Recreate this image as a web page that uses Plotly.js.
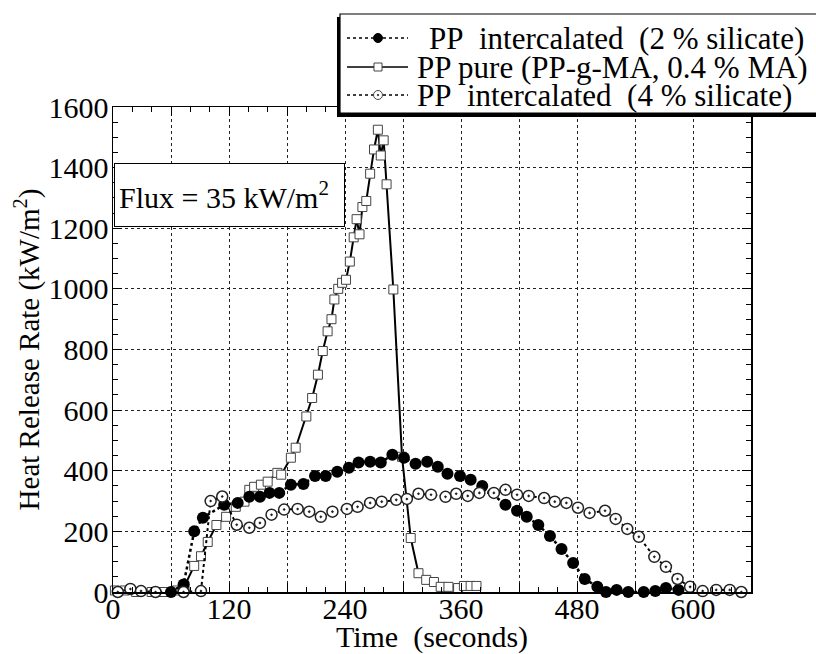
<!DOCTYPE html>
<html><head><meta charset="utf-8">
<script src="https://cdn.plot.ly/plotly-3.0.1.min.js"></script>
<style>html,body{margin:0;padding:0;background:#fff;} #chart{width:816px;height:654px;}</style>
</head><body><div id="chart"></div>
<script>
// ---- data ----
const tPure   = [2, 12, 24, 40, 52, 66, 74, 84, 91, 98, 107, 117, 127, 136, 141, 146, 153, 160, 170, 174, 184, 189, 200, 206, 212, 217, 222, 226, 229, 233, 237, 241, 245, 249, 252, 255, 258, 262, 266, 270, 274, 277, 280, 283, 290, 299, 308, 316, 324, 332, 339, 347, 357, 363, 370, 376];
const hrrPure = [5, 5, 0, 0, 0, 5, 20, 86, 118, 165, 221, 248, 281, 298, 337, 347, 354, 364, 393, 387, 443, 476, 579, 640, 717, 795, 860, 900, 965, 1000, 1020, 1030, 1090, 1170, 1230, 1180, 1270, 1290, 1380, 1460, 1525, 1440, 1490, 1345, 998, 446, 178, 62, 40, 33, 17, 17, 13, 20, 20, 20];

const t2   = [60, 73, 84, 93, 115, 129, 141, 152, 162, 172, 184, 197, 209, 220, 232, 244, 254, 266, 277, 289, 301, 313, 325, 336, 346, 359, 370, 382, 406, 418, 428, 440, 452, 464, 476, 488, 501, 510, 521, 533, 549, 561, 572, 585];
const hrr2 = [0, 25, 200, 245, 288, 294, 314, 314, 327, 327, 354, 356, 383, 383, 397, 410, 427, 430, 427, 453, 443, 423, 430, 413, 390, 383, 370, 350, 288, 268, 248, 221, 185, 142, 96, 43, 17, 0, 7, 0, 0, 3, 13, 7];

const t4   = [5, 18, 29, 44, 73, 91, 101, 113, 128, 141, 152, 164, 177, 191, 203, 215, 227, 242, 253, 266, 278, 293, 304, 316, 329, 344, 355, 367, 379, 394, 406, 418, 430, 446, 457, 469, 481, 493, 509, 520, 532, 544, 560, 572, 584, 597, 610, 624, 638, 650];
const hrr4 = [0, 10, 3, 0, 0, 3, 300, 315, 222, 212, 228, 255, 272, 274, 265, 248, 265, 274, 281, 294, 298, 304, 307, 324, 321, 314, 324, 317, 327, 327, 337, 321, 317, 310, 298, 294, 278, 261, 268, 241, 208, 182, 116, 83, 43, 17, 3, 7, 7, 0];

const xTickVals = [0, 60, 120, 180, 240, 300, 360, 420, 480, 540, 600, 660];
const xTickText = ['0', ' ', '120', ' ', '240', ' ', '360', ' ', '480', ' ', '600', ' '];
const seriesNames = [
  'PP\u00a0\u00a0intercalated\u00a0\u00a0(2\u00a0%\u00a0silicate)',
  'PP pure (PP-g-MA, 0.4 % MA)',
  'PP\u00a0\u00a0intercalated\u00a0\u00a0(4\u00a0%\u00a0silicate)'
];
const xTitle = 'Time\u00a0\u00a0(seconds)';
const yTitle = 'Heat Release Rate (kW/m<sup>2</sup>)';
const fluxNote = 'Flux = 35 kW/m<sup>2</sup>';

// ---- layout helpers ----
const W = 816, H = 654;
const M = {l: 113, r: 65, t: 107, b: 62};
const PW = W - M.l - M.r, PH = H - M.t - M.b;
const px = x => (x - M.l) / PW;
const py = y => (H - M.b - y) / PH;
const FONT = '"Liberation Serif", "Times New Roman", serif';

const traces = [
  {x: tPure, y: hrrPure, name: seriesNames[1], mode: 'lines+markers', cliponaxis: false,
   line: {color: '#000', width: 2},
   marker: {symbol: 'square', size: 9, color: '#fff', line: {color: '#444', width: 1}}},
  {x: t2, y: hrr2, name: seriesNames[0], mode: 'lines+markers', cliponaxis: false,
   line: {color: '#000', width: 2.5, dash: 'dot'},
   marker: {symbol: 'circle', size: 12, color: '#000', line: {color: '#000', width: 0}}},
  {x: t4, y: hrr4, name: seriesNames[2], mode: 'lines+markers', cliponaxis: false,
   line: {color: '#000', width: 2, dash: 'dot'},
   marker: {symbol: 'circle-dot', size: 11, color: '#fff', line: {color: '#222', width: 1.5}}}
];

// custom legend (box with shadow, samples, labels)
const rowsY = [38, 67, 95];
const rowsX = [427, 415, 415];
const shapes = [
  {type: 'rect', xref: 'paper', yref: 'paper', x0: px(337), x1: px(822), y0: py(117), y1: py(17), fillcolor: '#000', line: {width: 0}, layer: 'above'},
  {type: 'rect', xref: 'paper', yref: 'paper', x0: px(340), x1: px(822), y0: py(113), y1: py(14), fillcolor: '#fff', line: {color: '#000', width: 1.2}, layer: 'above'}
];
const sampleDash = ['dot', 'solid', 'dot'];
rowsY.forEach((ry, i) => {
  shapes.push({type: 'line', xref: 'paper', yref: 'paper', x0: px(347), x1: px(408), y0: py(ry), y1: py(ry),
    line: {color: '#000', width: 1.5, dash: sampleDash[i]}, layer: 'above'});
});
const mk = (i, type, half, fill, lc, lw) => ({type: type, xref: 'paper', yref: 'paper', xsizemode: 'pixel', ysizemode: 'pixel',
  xanchor: px(378), yanchor: py(rowsY[i]), x0: -half, x1: half, y0: -half, y1: half,
  fillcolor: fill, line: {color: lc, width: lw}, layer: 'above'});
shapes.push(mk(0, 'circle', 4.5, '#000', '#000', 1));
shapes.push(mk(1, 'rect', 4, '#fff', '#444', 1));
shapes.push(mk(2, 'circle', 4.5, '#fff', '#444', 1));
shapes.push(mk(2, 'circle', 0.8, '#000', '#000', 0.5));

const annotations = [
  {xref: 'paper', yref: 'paper', x: px(114), y: py(163), xanchor: 'left', yanchor: 'top', showarrow: false,
   text: fluxNote, font: {family: FONT, size: 30, color: '#000'}, align: 'left', valign: 'middle',
   width: 221, height: 54, borderpad: 4, bordercolor: '#000', borderwidth: 1, bgcolor: '#fff'}
];
[0, 1, 2].forEach(i => {
  annotations.push({xref: 'paper', yref: 'paper', x: px(rowsX[i]), y: py(rowsY[i]), xanchor: 'left', yanchor: 'middle',
    showarrow: false, text: seriesNames[i], font: {family: FONT, size: 31, color: '#000'}});
});

const axisCommon = {
  showline: true, linecolor: '#000', linewidth: 1.5, mirror: 'ticks',
  ticks: 'inside', ticklen: 9, tickwidth: 1, tickcolor: '#000',
  showgrid: true, gridcolor: '#222', gridwidth: 1, griddash: 'dot',
  zeroline: false, tickfont: {family: FONT, size: 30, color: '#000'}
};

const layout = {
  width: W, height: H, margin: M, paper_bgcolor: '#fff', plot_bgcolor: '#fff',
  showlegend: false, font: {family: FONT, color: '#000'},
  xaxis: Object.assign({}, axisCommon, {
    range: [0, 660], tickmode: 'array', tickvals: xTickVals, ticktext: xTickText, ticklabelstandoff: -11,
    minor: {tick0: 0, dtick: 20, ticks: 'inside', ticklen: 5, tickcolor: '#000', showgrid: false},
    title: {text: xTitle, font: {family: FONT, size: 30, color: '#000'}, standoff: 0}
  }),
  yaxis: Object.assign({}, axisCommon, {
    range: [0, 1600], tick0: 0, dtick: 200, ticklabelstandoff: -3,
    minor: {tick0: 0, dtick: 50, ticks: 'inside', ticklen: 5, tickcolor: '#000', showgrid: false},
    title: {text: yTitle, font: {family: FONT, size: 29, color: '#000'}, standoff: 0}
  }),
  shapes: shapes, annotations: annotations
};

Plotly.newPlot('chart', traces, layout, {displayModeBar: false, staticPlot: true});
</script>
</body></html>
